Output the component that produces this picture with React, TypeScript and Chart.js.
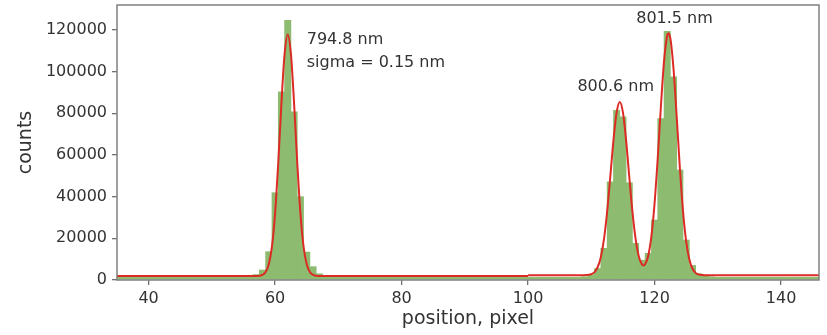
import React, { useEffect, useRef } from "react";
import { Chart, registerables } from "chart.js";

Chart.register(...registerables);

// Histogram bins (pixel position) and counts
const binCenters = [
  35, 36, 37, 38, 39, 40, 41, 42, 43, 44, 45, 46, 47, 48, 49, 50, 51, 52, 53, 54,
  55, 56, 57, 58, 59, 60, 61, 62, 63, 64, 65, 66, 67, 68, 69,
  70, 71, 72, 73, 74, 75, 76, 77, 78, 79, 80, 81, 82, 83, 84, 85, 86, 87, 88, 89,
  90, 91, 92, 93, 94, 95, 96, 97, 98, 99,
  100, 101, 102, 103, 104, 105, 106, 107, 108,
  109, 110, 111, 112, 113, 114, 115, 116, 117, 118, 119, 120, 121, 122, 123, 124,
  125, 126, 127, 128, 129,
  130, 131, 132, 133, 134, 135, 136, 137, 138, 139, 140, 141, 142, 143, 144, 145, 146,
];
const binCounts = [
  1400, 1400, 1400, 1400, 1400, 1400, 1400, 1400, 1400, 1400, 1400, 1400, 1400, 1400, 1400, 1400, 1400, 1400, 1400, 1400,
  1500, 1800, 2600, 4800, 13600, 41900, 90300, 124700, 80700, 40000, 13400, 6400, 3000, 1800, 1500,
  1400, 1400, 1400, 1400, 1400, 1400, 1400, 1400, 1400, 1400, 1400, 1400, 1400, 1400, 1400, 1400, 1400, 1400, 1400, 1400,
  1400, 1400, 1400, 1400, 1400, 1400, 1400, 1400, 1400, 1400,
  1300, 1300, 1300, 1300, 1300, 1300, 1300, 1300, 1300,
  1600, 2500, 5500, 15200, 47100, 81500, 78300, 46700, 17600, 9500, 12800, 28800, 77500, 119400, 97500, 52800,
  19200, 7000, 3000, 2000, 1500,
  1300, 1300, 1300, 1300, 1300, 1300, 1300, 1300, 1300, 1300, 1300, 1300, 1300, 1300, 1300, 1300, 1300,
];

// Fitted curve, left segment (794.8 nm line)
const fitLeftX = [35, 56, 57, 57.5, 58, 58.5, 59, 59.5, 60, 60.5, 61, 61.5, 62, 62.5, 63, 63.5, 64, 64.5, 65, 65.5, 66, 66.5, 67, 68, 100];
const fitLeftY = [1900, 1900, 1920, 2030, 2440, 3790, 7540, 16050, 32180, 56420, 84840, 108500, 117900, 108500, 84840, 56420, 32180, 16050, 7540, 3790, 2440, 2030, 1920, 1900, 1900];

// Fitted curve, right segment (800.6 nm and 801.5 nm lines)
const fitRightX = [
  100, 108, 108.5, 109, 109.5, 110, 110.5, 111, 111.5, 112, 112.5, 113, 113.5, 114, 114.5, 115, 115.5, 116,
  116.5, 117, 117.5, 118, 118.25, 118.5, 119, 119.5, 120, 120.5, 121, 121.5, 122, 122.2, 122.5, 123, 123.5,
  124, 124.5, 125, 125.5, 126, 126.5, 127, 127.5, 128, 129, 146,
];
const fitRightY = [
  2300, 2300, 2310, 2340, 2455, 2810, 3790, 6120, 10950, 19610, 32750, 49560, 67030, 80430, 85500, 80430, 67030, 49570,
  32780, 19735, 11400, 7490, 7020, 7510, 11650, 21050, 36740, 58435, 83175, 105020, 117340, 118500, 115940, 101190, 78295,
  53777, 32977, 18452, 9807, 5379, 3410, 2653, 2400, 2324, 2300, 2300,
];

const xTickValues = [40, 60, 80, 100, 120, 140];
const yTickValues = [0, 20000, 40000, 60000, 80000, 100000, 120000];

const noteTexts = ["794.8 nm", "sigma = 0.15 nm", "800.6 nm", "801.5 nm"];
const noteX = [65, 65, 107.8, 117.1];
const noteY = [115200, 104200, 92600, 125300];

const FONT = '"DejaVu Sans", sans-serif';

export default function App() {
  const ref = useRef<HTMLCanvasElement | null>(null);

  useEffect(() => {
    if (!ref.current) return;

    const overlay = {
      id: "frameAndNotes",
      afterDraw(chart: any) {
        const { ctx, chartArea, scales } = chart;
        const { left, top, right, bottom } = chartArea;
        ctx.save();
        ctx.strokeStyle = "#808080";
        ctx.lineWidth = 1.5;
        ctx.strokeRect(left, top, right - left, bottom - top);
        ctx.fillStyle = "#333333";
        ctx.font = `16px ${FONT}`;
        ctx.textBaseline = "middle";
        ctx.textAlign = "left";
        noteTexts.forEach((t, i) => {
          ctx.fillText(t, scales.x.getPixelForValue(noteX[i]), scales.y.getPixelForValue(noteY[i]));
        });
        ctx.restore();
      },
    };

    const chart = new Chart(ref.current, {
      type: "bar",
      data: {
        datasets: [
          {
            type: "line",
            data: fitLeftX.map((x, i) => ({ x, y: fitLeftY[i] })),
            borderColor: "#dc2b24",
            borderWidth: 2,
            pointRadius: 0,
            cubicInterpolationMode: "monotone",
            order: 1,
          } as any,
          {
            type: "line",
            data: fitRightX.map((x, i) => ({ x, y: fitRightY[i] })),
            borderColor: "#dc2b24",
            borderWidth: 2,
            pointRadius: 0,
            cubicInterpolationMode: "monotone",
            order: 1,
          } as any,
          {
            type: "bar",
            data: binCenters.map((x, i) => ({ x, y: binCounts[i] })),
            backgroundColor: "#8dbb70",
            borderWidth: 0,
            barPercentage: 1,
            categoryPercentage: 1,
            grouped: false,
            order: 2,
          } as any,
        ],
      },
      options: {
        animation: false,
        responsive: false,
        maintainAspectRatio: false,
        devicePixelRatio: 1,
        layout: { padding: { left: 0, right: 8, top: 5, bottom: 0 } },
        plugins: { legend: { display: false }, tooltip: { enabled: false } },
        scales: {
          x: {
            type: "linear",
            min: 35,
            max: 146,
            offset: false,
            afterBuildTicks: (s: any) => {
              s.ticks = xTickValues.map((v) => ({ value: v }));
            },
            afterFit: (s: any) => {
              s.height = 55;
              s.paddingLeft = 0;
              s.paddingRight = 0;
            },
            grid: { display: true, offset: false, drawOnChartArea: false, drawTicks: true, tickLength: 5, color: "#707070", lineWidth: 1.3 },
            border: { display: false },
            ticks: {
              padding: 4,
              color: "#333333",
              font: { family: FONT, size: 16 },
              maxRotation: 0,
              autoSkip: false,
              callback: (v: any) => String(v),
            },
            title: {
              display: true,
              text: "position, pixel",
              color: "#333333",
              font: { family: FONT, size: 19 },
              padding: { top: 0, bottom: 5 },
            },
          },
          y: {
            type: "linear",
            min: 0,
            max: 132000,
            afterBuildTicks: (s: any) => {
              s.ticks = yTickValues.map((v) => ({ value: v }));
            },
            afterFit: (s: any) => {
              s.width = 117;
              s.paddingTop = 0;
              s.paddingBottom = 0;
            },
            grid: { display: true, offset: false, drawOnChartArea: false, drawTicks: true, tickLength: 5, color: "#707070", lineWidth: 1.3 },
            border: { display: false },
            ticks: {
              padding: 5,
              color: "#333333",
              font: { family: FONT, size: 16 },
              autoSkip: false,
              callback: (v: any) => String(v),
            },
            title: {
              display: true,
              text: "counts",
              color: "#333333",
              font: { family: FONT, size: 19 },
              padding: { top: 14.6, bottom: 0 },
            },
          },
        },
      },
      plugins: [overlay],
    });

    return () => chart.destroy();
  }, []);

  return (
    <div style={{ position: "absolute", left: 0, top: 0, width: 827, height: 335, background: "#fff" }}>
      <canvas ref={ref} width={827} height={335} style={{ width: 827, height: 335, display: "block" }} />
    </div>
  );
}
